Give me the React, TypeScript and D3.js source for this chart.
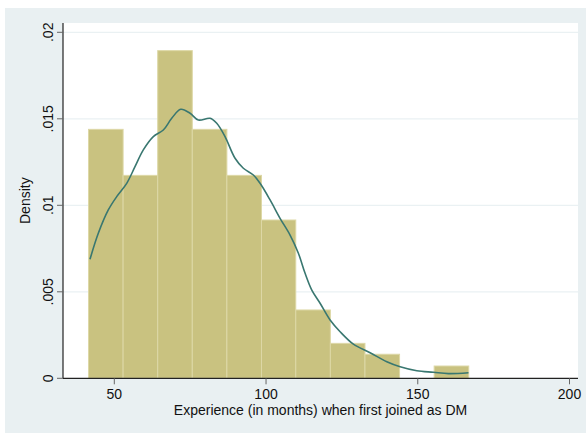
import React from "react";
import * as d3 from "d3";

const binEdges = [41.5, 52.9, 64.3, 75.7, 87.1, 98.5, 109.8, 121.2, 132.6, 144.0, 155.4, 166.8];
const binDensity = [0.01439, 0.01173, 0.01894, 0.01439, 0.01173, 0.00915, 0.00395, 0.00202, 0.00139, 0, 0.00071];

const kdeX = [41.99, 44.73, 48.02, 50.79, 54.09, 56.82, 59.56, 62.86, 66.15, 68.92, 71.89, 74.96, 77.69, 81.55, 83.76, 86.49, 89.79, 92.53, 95.82, 98.03, 101.33, 104.62, 107.92, 110.66, 112.87, 115.08, 117.81, 121.11, 124.41, 128.79, 134.3, 139.8, 144.19, 149.69, 155.17, 160.11, 166.71];
const kdeY = [0.00688, 0.00838, 0.00973, 0.0105, 0.01127, 0.01223, 0.0132, 0.01397, 0.01435, 0.01503, 0.01555, 0.01532, 0.01493, 0.01503, 0.01474, 0.01397, 0.01272, 0.01214, 0.01175, 0.01127, 0.01031, 0.00925, 0.00828, 0.00723, 0.00607, 0.0051, 0.00434, 0.00337, 0.00269, 0.00197, 0.00148, 0.00096, 0.00067, 0.00044, 0.00035, 0.00027, 0.00032];

const xTicks = [50, 100, 150, 200];
const yTicks = [0, 0.005, 0.01, 0.015, 0.02];
const yTickLabels = ["0", ".005", ".01", ".015", ".02"];
const xTitle = "Experience (in months) when first joined as DM";
const yTitle = "Density";

export default function App() {
  const W = 586, H = 433;
  const plotL = 63, plotR = 578, plotT = 23;
  const x = d3.scaleLinear().domain([50, 200]).range([114.3, 569.5]);
  const y = d3.scaleLinear().domain([0, 0.02]).range([378.3, 32.3]);
  const base = y(0);
  const line = d3
    .line<number>()
    .x((_, i) => x(kdeX[i]))
    .y((d) => y(d))
    .curve(d3.curveCatmullRom.alpha(0.5));
  const font = "'Liberation Sans', Arial, Helvetica, sans-serif";
  return (
    <svg width={W} height={H} style={{ position: "absolute", left: 0, top: 0, background: "#fff" }}>
      <rect x={5} y={8} width={W - 5} height={H - 8} fill="#e9f0f2" />
      <rect x={plotL} y={plotT} width={plotR - plotL} height={base - plotT} fill="#ffffff" />
      {yTicks.slice(1).map((t) => (
        <line key={"g" + t} x1={plotL} x2={plotR} y1={y(t)} y2={y(t)} stroke="#eaf1f3" strokeWidth={1.2} />
      ))}
      {binDensity.map((d, i) =>
        d > 0 ? (
          <rect
            key={"b" + i}
            x={x(binEdges[i])}
            y={y(d)}
            width={x(binEdges[i + 1]) - x(binEdges[i])}
            height={base - y(d)}
            fill="#c9c280"
            stroke="#ddd8a6"
            strokeWidth={1}
          />
        ) : null
      )}
      <path d={line(kdeY) || ""} fill="none" stroke="#397770" strokeWidth={1.6} />
      <line x1={plotL} x2={plotL} y1={plotT} y2={base} stroke="#222" strokeWidth={1.2} />
      <line x1={plotL} x2={plotR} y1={base} y2={base} stroke="#222" strokeWidth={1.2} />
      {yTicks.map((t, i) => (
        <g key={"yt" + t}>
          <line x1={57} x2={plotL} y1={y(t)} y2={y(t)} stroke="#666" strokeWidth={1} />
          <text
            transform={`translate(53,${y(t)}) rotate(-90)`}
            textAnchor="middle"
            fontFamily={font}
            fontSize={14}
            fill="#111"
          >
            {yTickLabels[i]}
          </text>
        </g>
      ))}
      {xTicks.map((t) => (
        <g key={"xt" + t}>
          <line x1={x(t)} x2={x(t)} y1={base} y2={base + 6} stroke="#666" strokeWidth={1} />
          <text x={x(t)} y={398.5} textAnchor="middle" fontFamily={font} fontSize={14} fill="#111">
            {t}
          </text>
        </g>
      ))}
      <text x={(plotL + plotR) / 2} y={415} textAnchor="middle" fontFamily={font} fontSize={14} fill="#111">
        {xTitle}
      </text>
      <text
        transform={`translate(30,${(plotT + base) / 2}) rotate(-90)`}
        textAnchor="middle"
        fontFamily={font}
        fontSize={14}
        fill="#111"
      >
        {yTitle}
      </text>
    </svg>
  );
}
